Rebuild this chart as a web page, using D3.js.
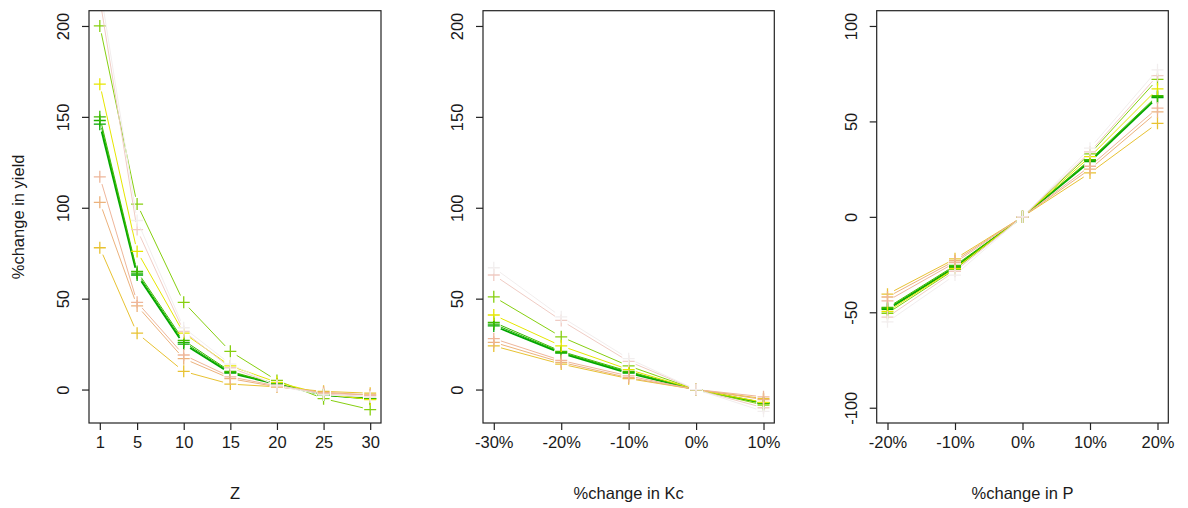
<!DOCTYPE html>
<html>
<head>
<meta charset="utf-8">
<script src="https://cdn.jsdelivr.net/npm/d3@7"></script>
<style>
  html, body { margin: 0; padding: 0; background: #fff; }
  svg { display: block; }
  text { font-family: "Liberation Sans", Arial, sans-serif; fill: #1a1a1a; }
</style>
</head>
<body>
<svg id="chart" width="1188" height="508"></svg>
<script>
// ---- data ----
const zValues = [1, 5, 10, 15, 20, 25, 30];
const kcValues = [-30, -20, -10, 0, 10];
const pValues = [-20, -10, 0, 10, 20];

// drawing order: first entry is drawn first (bottom)
const seriesNames = ["s1", "s2", "s3", "s4", "s5", "s6", "s7", "s8", "s9", "s10"];
const seriesColors = ["#00A600", "#1FB000", "#3EBB00", "#86CF10", "#E6E600", "#E8C232", "#ECB27C", "#EEB69A", "#F0CCC4", "#F2EEEE"];
const seriesWidths = [1.8, 1, 1, 1, 1, 1, 1, 1, 1, 1];

const yieldZ = [
  [146, 63, 25, 9, 3, -3, -5],
  [148, 64, 26, 9.5, 3, -3, -5],
  [150, 65, 27, 10, 3, -3, -5],
  [200, 102, 48, 21, 5, -5, -11],
  [168, 76, 31, 13, 4, -2.5, -5.5],
  [78, 31, 10, 3, 1.5, -1, -2],
  [103, 46, 17, 6, 1.5, -1.5, -3],
  [117, 48, 19, 7, 2, -2, -3],
  [215, 88, 32, 12, 2.5, -2.5, -4],
  [222, 93, 34, 14, 2, -3, -4]
];
const yieldKc = [
  [35, 20, 9, 0, -7.5],
  [36, 20.5, 9.5, 0, -7.5],
  [37, 21, 10, 0, -7.5],
  [51, 29, 13, 0, -8.5],
  [41, 24, 11, 0, -7],
  [24, 14, 6, 0, -5],
  [26, 15, 6.5, 0, -5.5],
  [28, 16, 7.5, 0, -4],
  [63, 38, 15.5, 0, -10],
  [67, 40, 17, 0, -12]
];
const yieldP = [
  [-48.5, -26.5, 0, 29, 62.5],
  [-48, -26, 0, 29.5, 63],
  [-47.5, -25.5, 0, 30, 63.5],
  [-50.5, -27.5, 0, 33, 72],
  [-49.5, -27, 0, 31.5, 67],
  [-40.5, -22, 0, 23, 49],
  [-42, -23, 0, 25, 55],
  [-44, -24, 0, 26.5, 57],
  [-52.5, -28.5, 0, 34, 74],
  [-55, -30.5, 0, 36, 77]
];

const zTicks = [1, 5, 10, 15, 20, 25, 30];
const kcTicks = [-30, -20, -10, 0, 10];
const pTicks = [-20, -10, 0, 10, 20];
const yTicks12 = [0, 50, 100, 150, 200];
const yTicks3 = [-100, -50, 0, 50, 100];

// ---- layout ----
const svg = d3.select("#chart");
const plotTop = 10.7, plotBottom = 423;

function expand(lo, hi) { const d = (hi - lo) * 0.04; return [lo - d, hi + d]; }

const panels = [
  { left: 89, right: 381, xs: zValues, data: yieldZ, xlim: [1, 30], ylim: [-10, 200], xt: zTicks, yt: yTicks12,
    xfmt: d => String(d), xlab: "Z", ylab: "%change in yield" },
  { left: 483, right: 774.3, xs: kcValues, data: yieldKc, xlim: [-30, 10], ylim: [-10, 200], xt: kcTicks, yt: yTicks12,
    xfmt: d => d + "%", xlab: "%change in Kc", ylab: null },
  { left: 876.7, right: 1168.3, xs: pValues, data: yieldP, xlim: [-20, 20], ylim: [-100, 100], xt: pTicks, yt: yTicks3,
    xfmt: d => d + "%", xlab: "%change in P", ylab: null }
];

const gap = 7.5;   // R type="b" gap around points
const half = 6;    // plus-sign half size

panels.forEach((p, pi) => {
  const x = d3.scaleLinear().domain(expand(...p.xlim)).range([p.left, p.right]);
  const y = d3.scaleLinear().domain(expand(...p.ylim)).range([plotBottom, plotTop]);
  const g = svg.append("g");

  const clipId = "clip" + pi;
  svg.append("clipPath").attr("id", clipId).append("rect")
    .attr("x", p.left).attr("y", plotTop).attr("width", p.right - p.left).attr("height", plotBottom - plotTop);
  const plot = g.append("g").attr("clip-path", `url(#${clipId})`);

  p.data.forEach((vals, si) => {
    const col = seriesColors[si];
    const pts = vals.map((v, i) => [x(p.xs[i]), y(v)]);
    const sg = plot.append("g").attr("class", "series " + seriesNames[si]);
    for (let i = 0; i < pts.length - 1; i++) {
      const [x0, y0] = pts[i], [x1, y1] = pts[i + 1];
      const dx = x1 - x0, dy = y1 - y0, L = Math.hypot(dx, dy);
      if (L <= 2 * gap) continue;
      const ux = dx / L, uy = dy / L;
      sg.append("line")
        .attr("x1", x0 + ux * gap).attr("y1", y0 + uy * gap)
        .attr("x2", x1 - ux * gap).attr("y2", y1 - uy * gap)
        .attr("stroke", col).attr("stroke-width", seriesWidths[si]);
    }
    pts.forEach(([px, py]) => {
      sg.append("path")
        .attr("d", `M${px - half},${py}H${px + half}M${px},${py - half}V${py + half}`)
        .attr("stroke", col).attr("stroke-width", 1.3).attr("fill", "none");
    });
  });

  // box
  g.append("rect").attr("x", p.left).attr("y", plotTop)
    .attr("width", p.right - p.left).attr("height", plotBottom - plotTop)
    .attr("fill", "none").attr("stroke", "#222").attr("stroke-width", 1.2);

  // x axis
  const xa = g.append("g").attr("transform", `translate(0,${plotBottom})`)
    .call(d3.axisBottom(x).tickValues(p.xt).tickFormat(p.xfmt).tickSize(7).tickPadding(6));
  xa.select(".domain").remove();
  xa.selectAll("line").attr("stroke", "#222").attr("stroke-width", 1.2);
  xa.selectAll("text").style("font-size", "16.5px").attr("fill", "#1a1a1a");

  // y axis
  const ya = g.append("g").attr("transform", `translate(${p.left},0)`)
    .call(d3.axisLeft(y).tickValues(p.yt).tickFormat(d => String(d)).tickSize(7));
  ya.select(".domain").remove();
  ya.selectAll("line").attr("stroke", "#222").attr("stroke-width", 1.2);
  ya.selectAll("text")
    .attr("x", null).attr("dy", null)
    .attr("transform", "translate(-26,0) rotate(-90)")
    .attr("text-anchor", "middle")
    .attr("dominant-baseline", "central")
    .style("font-size", "16.5px").attr("fill", "#1a1a1a");

  // titles
  g.append("text").attr("x", (p.left + p.right) / 2).attr("y", 493)
    .attr("text-anchor", "middle").attr("dominant-baseline", "central")
    .style("font-size", "16.5px").text(p.xlab);
  if (p.ylab) {
    g.append("text").attr("transform", `translate(18,${(plotTop + plotBottom) / 2}) rotate(-90)`)
      .attr("text-anchor", "middle").attr("dominant-baseline", "central")
      .style("font-size", "16.5px").text(p.ylab);
  }
});
</script>
</body>
</html>
